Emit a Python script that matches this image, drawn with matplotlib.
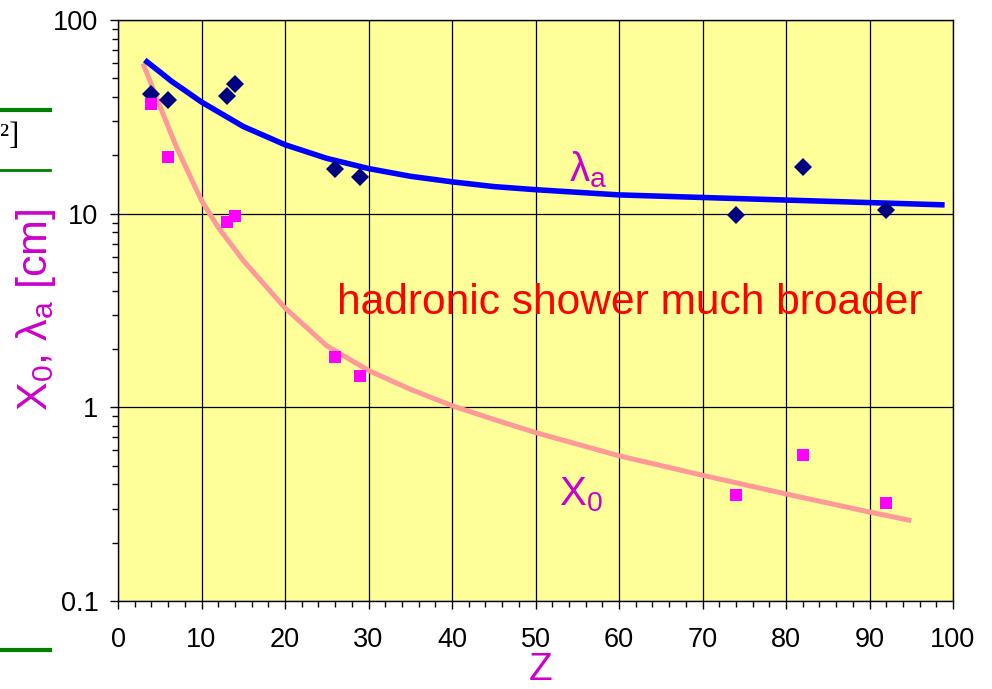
import matplotlib
matplotlib.use("Agg")
import matplotlib.pyplot as plt
from matplotlib.ticker import MultipleLocator, LogLocator, NullFormatter, FixedLocator

plt.rcParams['font.family'] = ['Liberation Sans', 'DejaVu Sans']
plt.rcParams['mathtext.fontset'] = 'custom'
plt.rcParams['mathtext.rm'] = 'Liberation Sans'
plt.rcParams['mathtext.it'] = 'Liberation Sans'
plt.rcParams['mathtext.bf'] = 'Liberation Sans:bold'

# measured points (element Z)
Z_pts = [4, 6, 13, 14, 26, 29, 74, 82, 92]
lambda_pts = [41.5, 38.6, 40.5, 46.7, 17.0, 15.5, 9.85, 17.4, 10.45]
X0_pts = [36.8, 19.6, 9.06, 9.73, 1.82, 1.45, 0.353, 0.568, 0.32]

# fitted curves
lam_curve_Z = [3.2, 5, 6.4, 8, 10, 12.4, 15, 17.5, 20, 25, 30, 35, 40, 45, 50, 60, 76, 99]
lam_curve_v = [62.1, 54.0, 48.3, 43.3, 37.7, 32.8, 28.2, 25.3, 22.7, 19.3, 17.1, 15.6,
               14.6, 13.8, 13.3, 12.5, 11.9, 11.1]
x0_curve_Z = [3.0, 5, 7, 10, 12, 15, 20, 25, 30, 35, 40, 45, 50, 60, 70, 80, 90, 95]
x0_curve_v = [59.7, 36.0, 22.1, 11.7, 8.5, 5.73, 3.26, 2.08, 1.55, 1.24, 1.02, 0.866, 0.741,
              0.562, 0.446, 0.357, 0.288, 0.260]

x_ticks = [0, 10, 20, 30, 40, 50, 60, 70, 80, 90, 100]
y_ticks = [0.1, 1, 10, 100]
y_ticklabels = ['0.1', '1', '10', '100']

fig = plt.figure(figsize=(9.92, 6.89), dpi=100)
ax = fig.add_axes([118/992, 1-601/689, (953-118)/992, (601-20)/689])
ax.set_facecolor('#FFFF99')

ax.set_yscale('log')
ax.set_xlim(0, 100)
ax.set_ylim(0.1, 100)

ax.xaxis.set_major_locator(FixedLocator(x_ticks))
ax.xaxis.set_minor_locator(MultipleLocator(2))
ax.yaxis.set_major_locator(FixedLocator(y_ticks))
ax.yaxis.set_minor_locator(LogLocator(base=10, subs=range(2, 10)))
ax.yaxis.set_minor_formatter(NullFormatter())
ax.set_yticklabels(y_ticklabels)
ax.set_xticklabels([str(v) for v in x_ticks])

ax.grid(True, which='major', color='black', linewidth=0.9)
ax.set_axisbelow(True)
for s in ax.spines.values():
    s.set_color('black')
    s.set_linewidth(1.0)

ax.tick_params(axis='both', which='major', direction='out', length=6, width=1,
               labelsize=19.5, color='black')
ax.tick_params(axis='both', which='minor', direction='out', length=4, width=1, color='black')
ax.tick_params(axis='y', which='major', pad=8)
ax.tick_params(axis='x', which='major', pad=13)

ax.plot(x0_curve_Z, x0_curve_v, color='#FF9999', linewidth=3.6, solid_capstyle='butt',
        solid_joinstyle='round', zorder=3)
ax.plot(lam_curve_Z, lam_curve_v, color='#0000FF', linewidth=4.0, solid_capstyle='butt',
        solid_joinstyle='round', zorder=3)
ax.plot(Z_pts, lambda_pts, linestyle='none', marker='D', markersize=9,
        color='#000080', markeredgewidth=0, zorder=4)
ax.plot(Z_pts, X0_pts, linestyle='none', marker='s', markersize=8.5,
        color='#FF00FF', markeredgewidth=0, zorder=4)

ax.text(56.3, 16.8, r'$\lambda_\mathrm{a}$', color='#CC00CC', fontsize=29,
        ha='center', va='center', zorder=5)
ax.text(55.5, 0.355, r'X$_\mathrm{0}$', color='#CC00CC', fontsize=29,
        ha='center', va='center', zorder=5)
ax.text(0.6126, 0.5137, 'hadronic shower much broader', color='#FF0000', fontsize=30.6,
        ha='center', va='center', transform=ax.transAxes, zorder=5)

fig.text(36/992, 1-310/689, r'X$_\mathrm{0}$, $\lambda_\mathrm{a}$ [cm]', color='#CC00CC',
         fontsize=31, rotation=90, ha='center', va='center')
fig.text(541/992, 1/689, 'Z', color='#CC00CC', fontsize=28, ha='center', va='bottom')

# slide fragments at the left edge
fig.add_artist(plt.Line2D([0, 50/992], [1-110/689, 1-110/689], color='#008000', linewidth=3))
fig.add_artist(plt.Line2D([0, 50/992], [1-170/689, 1-170/689], color='#008000', linewidth=2))
fig.add_artist(plt.Line2D([0, 50/992], [1-650/689, 1-650/689], color='#008000', linewidth=3))
fig.text(0/992, 1-137/689, '²]', color='black', fontsize=22, family='Liberation Serif',
         ha='left', va='center')

fig.savefig('out.png', dpi=100)
